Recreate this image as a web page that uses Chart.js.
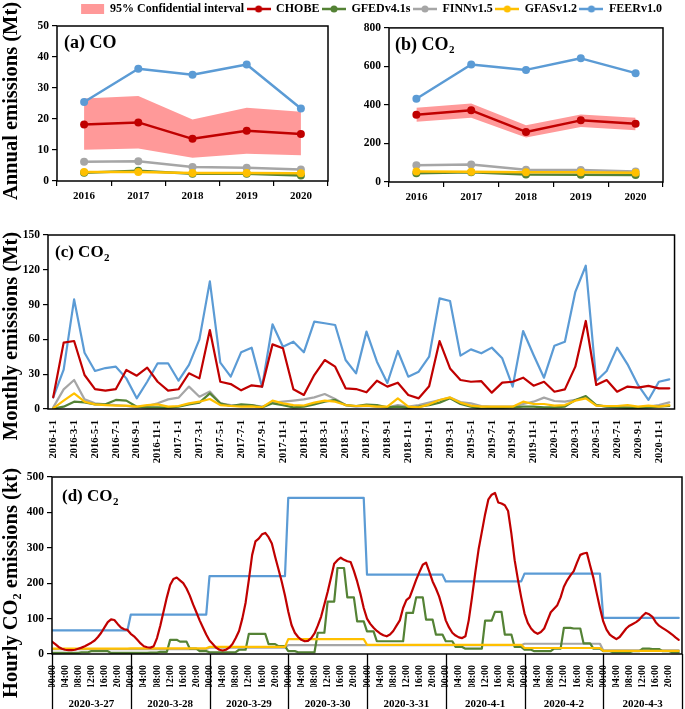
<!DOCTYPE html>
<html><head><meta charset="utf-8">
<script src="https://cdn.jsdelivr.net/npm/chart.js"></script>
<style>
html,body{margin:0;padding:0;background:#fff;}
body{width:685px;height:709px;position:relative;overflow:hidden;}
.c{position:absolute;}
</style></head><body>
<div class="c" style="left:0;top:0;width:340px;height:208px"><canvas id="ca"></canvas></div>
<div class="c" style="left:340px;top:18px;width:345px;height:190px"><canvas id="cb"></canvas></div>
<div class="c" style="left:0;top:222px;width:685px;height:256px"><canvas id="cc"></canvas></div>
<div class="c" style="left:0;top:465px;width:685px;height:244px"><canvas id="cd"></canvas></div>
<div class="c" style="left:29px;top:0;width:685px;height:40px"><canvas id="leg"></canvas></div>
<script>
// ---------- DATA ----------
const years = ['2016','2017','2018','2019','2020'];
// (a) CO annual (Mt)
const coCHOBE = [18.2, 18.9, 13.6, 16.2, 15.2];
const coUpper = [26.6, 27.4, 19.8, 23.6, 22.3];
const coLower = [10.1, 10.5, 7.5, 8.8, 8.3];
const coGFED  = [2.7, 3.3, 2.3, 2.3, 1.8];
const coFINN  = [6.2, 6.4, 4.5, 4.3, 3.7];
const coGFAS  = [2.9, 2.9, 2.6, 2.6, 2.5];
const coFEER  = [25.5, 36.2, 34.3, 37.6, 23.4];
// (b) CO2 annual (Mt)
const co2CHOBE = [349, 372, 260, 320, 303];
const co2Upper = [385, 408, 295, 351, 334];
const co2Lower = [313, 334, 231, 286, 269];
const co2GFED  = [46, 51, 39, 38, 36];
const co2FINN  = [87, 91, 63, 62, 55];
const co2GFAS  = [55, 53, 50, 51, 48];
const co2FEER  = [432, 610, 582, 642, 565];
// (c) monthly CO2 (Mt), 2016-01 .. 2020-12
const monthLabels = [];
for (let y = 2016; y <= 2020; y++) for (let m = 1; m <= 12; m++) monthLabels.push(y + '-' + m + '-1');
const mCHOBE = [10.1,57.2,58.6,29.3,17.2,15.8,17.2,33.6,28.7,35.6, 23.5,15.8,17.0,30.8,26.4,68.1,23.5,21.5,16.1,20.4,
                19.3,55.7,52.3,17.0,12.1,29.3,42.2,36.5,17.8,17.2, 14.4,24.4,19.3,22.7,12.1,9.2,19.6,58.6,35.0,25.0,
                23.5,24.0,14.1,22.7,23.5,27.0,20.1,23.5,14.9,16.9, 36.5,75.9,20.7,25.0,14.9,19.3,18.4,19.9,17.8,17.8];
const mFEER  = [10,34,94.5,48.5,32.8,35.3,36.5,26.4,9.2,23.5, 39.4,39.4,24.4,38,60,110,40,27.9,49,52.9,
                19,73,53.7,58,48.9,75.3,73.9,72.4,42.2,30.7, 66.7,40.8,22.4,50,27.9,32.2,45.1,95.4,93.1,46,
                51.4,48,52.9,43.7,19.3,67.2,46.6,27,54.6,58, 101,123.5,24.1,32.8,52.9,38.5,20.7,7.8,23.5,25.6];
const mGFED  = [0.3,2,6.3,5.7,4,4,7.8,7.2,2,1.4, 1.4,1.1,2,4,5.5,13.5,4.9,2.6,4,3.4,
                1.4,4.9,3.4,1.4,2,4,6.3,7.8,3.4,2.6, 3.7,3.4,1.4,2,0.9,2,3.4,5.5,9.2,4.3,
                2,0.3,0.9,0.9,1.4,2,2,1.4,1.4,2, 7.8,11.2,3.4,2,1.4,0.9,0.9,1.4,2,2.6];
const mFINN  = [1.4,16.9,25,8.3,4.9,4,3.4,2.6,1.4,2.6, 4.9,8.3,9.8,19.3,10.6,15,4.9,3.4,3,3.4,
                2,5.5,6.3,7.2,8.3,10,12.9,8.6,3.4,2, 2.6,2,1.4,3.4,2,3.4,5.5,7.8,9.8,6,
                4.9,2.6,2,2,2,4.3,6.3,9.8,6.9,6.3, 7.8,10.2,3.4,2,2,2,1.4,2,3.4,5.7];
const mGFAS  = [0.6,7.2,13.5,6.3,4,3.4,2.9,2.9,2,3.4, 4,2,2.6,4.9,6.3,8.6,3.4,2.6,2,2.3,
                1.4,7.2,4.9,3.4,3,5.5,7.2,6.3,3.4,2.6, 2.9,2,2,9.2,2,1.4,4,7.8,10,5.5,
                2.9,2,2,2,2,6.3,4.3,4.3,2.9,3.4, 7.2,9.2,2.9,2.6,2.6,3.4,2,2.9,2,3.4];
// (d) hourly CO2 (kt), 2020-3-27 00:00 .. 2020-4-3 23:00
const dayLabels = ['2020-3-27','2020-3-28','2020-3-29','2020-3-30','2020-3-31','2020-4-1','2020-4-2','2020-4-3'];
const hourTicks = ['00:00','04:00','08:00','12:00','16:00','20:00'];
const hCHOBE = [
 35,28,20,15,12,11,11,12,15,18,22,27,32,38,48,60,75,90,98,96,85,75,70,68,
 57,50,40,30,22,19,18,22,45,80,120,160,195,212,216,208,200,185,165,140,118,95,75,55,
 38,28,18,12,10,12,18,28,45,65,100,145,210,280,318,326,338,342,330,312,275,240,205,165,
 120,82,60,48,40,36,37,45,58,80,105,140,175,215,255,265,272,266,262,260,235,205,170,130,
 100,85,74,65,58,53,50,55,65,80,95,130,152,160,185,210,232,252,258,232,205,185,162,130,
 95,75,60,52,47,45,50,95,160,230,295,345,395,437,450,455,428,425,420,404,340,265,210,160,
 115,88,72,62,57,62,72,95,118,128,138,160,190,208,222,234,258,280,284,286,250,215,172,130,
 92,69,55,48,42,48,60,72,80,85,90,97,108,116,112,105,90,80,74,68,62,55,47,40];
// GFED: 3-hourly blocks (8 per day)
const hGFEDblocks = [
 3,3,3,5,8,8,3,3,
 3,3,4,6,40,35,15,8,
 5,5,5,12,57,57,28,22,
 8,5,5,60,148,243,160,92,
 64,36,36,36,116,160,97,55,
 36,20,15,15,94,119,55,20,
 12,8,8,15,74,72,30,15,
 8,5,5,8,15,14,8,5];
// daily-constant products
const hFINNdaily = [14, 14, 18, 25, 25, 25, 29, 10];
const hGFASdaily = [15, 16, 20, 42, 26, 26, 17, 9];
const hFEERdaily = [67, 111, 220, 441, 224, 205, 227, 102];

// ---------- STYLE ----------
const RED='#C00000', GRN='#548235', GRY='#A6A6A6', YEL='#FFC000', BLUE='#5B9BD5', PINK='#FF9999';
const FAM = "'Liberation Serif','Times New Roman',serif";
Chart.defaults.font.family = FAM;
Chart.defaults.font.weight = 'bold';
Chart.defaults.color = '#000';
Chart.defaults.animation = false;
Chart.defaults.plugins.legend.display = false;
Chart.defaults.plugins.tooltip.enabled = false;
Chart.defaults.maintainAspectRatio = false;

const frame = {id:'frame', afterDraw(chart){
  const {ctx, chartArea:a} = chart; ctx.save(); ctx.strokeStyle='#000'; ctx.lineWidth=1.5;
  ctx.strokeRect(a.left, a.top, a.right-a.left, a.bottom-a.top); ctx.restore();
}};
const plabel = {id:'plabel', afterDraw(chart, args, o){
  const {ctx, chartArea:a} = chart; ctx.save(); ctx.fillStyle='#000'; ctx.textBaseline='middle';
  ctx.font = 'bold ' + o.size + 'px ' + FAM;
  const x = a.left + o.dx, y = a.top + o.dy;
  ctx.fillText(o.main, x, y);
  if (o.sub) { const w = ctx.measureText(o.main).width; ctx.font = 'bold ' + Math.round(o.size*0.62) + 'px ' + FAM; ctx.fillText(o.sub, x + w + 0.5, y + o.size*0.28); }
  ctx.restore();
}};
// rotated y-axis title, centred at (x, yc) in canvas pixels
const ytitle = {id:'ytitle', afterDraw(chart, args, o){
  if (!o || !o.text) return;
  const ctx = chart.ctx; ctx.save(); ctx.translate(o.x, o.yc); ctx.rotate(-Math.PI/2);
  ctx.fillStyle='#000'; ctx.textAlign='center'; ctx.textBaseline='middle';
  ctx.font = 'bold ' + o.size + 'px ' + FAM; ctx.fillText(o.text, 0, 0); ctx.restore();
}};
const daySep = {id:'daySep', afterDraw(chart){
  const s = chart.scales.x, a = chart.chartArea, ctx = chart.ctx; ctx.save(); ctx.strokeStyle='#000'; ctx.lineWidth=1.3;
  for (let d = 0; d <= dayLabels.length; d++) { const x = Math.round(s.getPixelForValue(24*d)) + 0.5; ctx.beginPath(); ctx.moveTo(x, a.bottom); ctx.lineTo(x, chart.height); ctx.stroke(); }
  ctx.restore();
}};

function yAxis(min, max, step, width){
  return {min, max, ticks:{stepSize:step, font:{size:11.5}, padding:3},
    grid:{drawOnChartArea:false, drawTicks:true, tickLength:5, color:'#000', lineWidth:1.2},
    border:{display:false}, title:{display:false},
    afterFit(s){ s.width = width; }};
}
function catX(height){
  return {offset:true, ticks:{font:{size:11}, padding:4, maxRotation:0, autoSkip:false},
    grid:{offset:true, drawOnChartArea:false, drawTicks:true, tickLength:5, color:'#000', lineWidth:1.2},
    border:{display:false}, afterFit(s){ s.height = height; }};
}
function L(label, data, color, w, r){
  return {label, data, borderColor:color, backgroundColor:color, pointBackgroundColor:color, pointBorderWidth:0,
    pointRadius:r, borderWidth:w, fill:false, tension:0, borderJoinStyle:'round', borderCapStyle:'round'};
}
function annual(chobe, up, lo, gfed, finn, gfas, feer){
  return [L('CHOBE',chobe,RED,2.5,4), L('FEERv1.0',feer,BLUE,2.5,4), L('GFASv1.2',gfas,YEL,2.5,4),
    L('GFEDv4.1s',gfed,GRN,2.5,4), L('FINNv1.5',finn,GRY,2.5,4),
    {label:'CIup', data:up, borderWidth:0, borderColor:'transparent', pointRadius:0, backgroundColor:PINK, fill:'+1'},
    {label:'CIlo', data:lo, borderWidth:0, borderColor:'transparent', pointRadius:0, fill:false}];
}

// ---------- (a) ----------
new Chart(document.getElementById('ca'), {
  type:'line', data:{labels:years, datasets:annual(coCHOBE, coUpper, coLower, coGFED, coFINN, coGFAS, coFEER)},
  options:{layout:{padding:{top:26, right:12, left:0, bottom:0}},
    scales:{x:catX(27), y:yAxis(0,50,10,57)},
    plugins:{plabel:{main:'(a) CO', sub:'', size:18, dx:7, dy:17},
             ytitle:{text:'Annual emissions (Mt)', x:12, yc:101, size:20.5}}},
  plugins:[frame, plabel, ytitle]
});
// ---------- (b) ----------
new Chart(document.getElementById('cb'), {
  type:'line', data:{labels:years, datasets:annual(co2CHOBE, co2Upper, co2Lower, co2GFED, co2FINN, co2GFAS, co2FEER)},
  options:{layout:{padding:{top:8, right:22, left:0, bottom:0}},
    scales:{x:catX(26), y:yAxis(0,800,200,49)},
    plugins:{plabel:{main:'(b) CO', sub:'2', size:18, dx:6, dy:17}}},
  plugins:[frame, plabel]
});
// ---------- (c) ----------
new Chart(document.getElementById('cc'), {
  type:'line', data:{labels:monthLabels, datasets:[
    L('CHOBE',mCHOBE,RED,2.2,0), L('FEERv1.0',mFEER,BLUE,2.2,0), L('GFASv1.2',mGFAS,YEL,2.2,0),
    L('GFEDv4.1s',mGFED,GRN,2.2,0), L('FINNv1.5',mFINN,GRY,2.2,0)]},
  options:{layout:{padding:{top:13, right:10, left:0, bottom:0}},
    scales:{
      x:{offset:true, ticks:{font:{size:10.5}, padding:3, minRotation:90, maxRotation:90, autoSkip:false,
          callback(v, i){ return i % 2 === 0 ? this.getLabelForValue(v) : ''; }},
         grid:{display:false}, border:{display:false}, afterFit(s){ s.height = 69; }},
      y:yAxis(0,150,30,48)},
    plugins:{plabel:{main:'(c) CO', sub:'2', size:17, dx:7, dy:18},
             ytitle:{text:'Monthly emissions (Mt)', x:12, yc:114, size:20.5}}},
  plugins:[frame, plabel, ytitle]
});
// ---------- (d) ----------
const hourlyPts = hCHOBE.map((v, i) => ({x:i, y:v}));
const gfedPts = []; hGFEDblocks.forEach((v, k) => { gfedPts.push({x:3*k, y:v}); gfedPts.push({x:3*k+2, y:v}); });
const dailyPts = arr => { const p = []; arr.forEach((v, d) => { p.push({x:24*d, y:v}); p.push({x:24*d+23, y:v}); }); return p; };
new Chart(document.getElementById('cd'), {
  type:'line', data:{datasets:[
    L('CHOBE',hourlyPts,RED,2.2,0), L('FEERv1.0',dailyPts(hFEERdaily),BLUE,2.2,0),
    L('GFASv1.2',dailyPts(hGFASdaily),YEL,2.2,0), L('GFEDv4.1s',gfedPts,GRN,2.2,0),
    L('FINNv1.5',dailyPts(hFINNdaily),GRY,2.2,0)]},
  options:{layout:{padding:{top:12, right:3, left:0, bottom:0}},
    scales:{
      x:{type:'linear', min:0, max:192, weight:0,
         ticks:{font:{size:10}, padding:3, minRotation:90, maxRotation:90, autoSkip:false, includeBounds:false,
           callback(v){ return hourTicks[(v % 24) / 4]; }},
         afterBuildTicks(s){ const t = []; for (let v = 0; v < 192; v += 4) t.push({value:v}); s.ticks = t; },
         grid:{display:false}, border:{display:false}, afterFit(s){ s.height = 33; }},
      xd:{type:'category', labels:dayLabels, position:'bottom', offset:true, weight:1,
         ticks:{font:{size:11}, padding:3, maxRotation:0, autoSkip:false},
         grid:{display:false}, border:{display:false}, afterFit(s){ s.height = 22; }},
      y:yAxis(0,500,100,52)},
    plugins:{plabel:{main:'(d) CO', sub:'2', size:17, dx:10, dy:20},
             ytitle:{text:'Hourly CO\u2082 emissions (kt)', x:12, yc:118, size:20.5}}},
  plugins:[frame, plabel, ytitle, daySep]
});

// ---------- LEGEND ----------
function lineDot(color){
  const c = document.createElement('canvas'); c.width = 24; c.height = 10;
  const g = c.getContext('2d'); g.strokeStyle = color; g.lineWidth = 2.5;
  g.beginPath(); g.moveTo(0,5); g.lineTo(24,5); g.stroke();
  g.fillStyle = color; g.beginPath(); g.arc(12,5,3.5,0,Math.PI*2); g.fill(); return c;
}
const legendItems = [
  {text:'95% Confidential interval', color:PINK, rect:true},
  {text:'CHOBE', color:RED}, {text:'GFEDv4.1s', color:GRN}, {text:'FINNv1.5', color:GRY},
  {text:'GFASv1.2', color:YEL}, {text:'FEERv1.0', color:BLUE}];
new Chart(document.getElementById('leg'), {
  type:'line', data:{labels:[], datasets:[]},
  options:{layout:{padding:0}, scales:{x:{display:false}, y:{display:false}},
    plugins:{legend:{display:true, position:'top', align:'center',
      labels:{usePointStyle:true, pointStyleWidth:23, boxHeight:10, padding:3, font:{size:12, weight:'bold'}, color:'#000',
        generateLabels: () => legendItems.map((it, i) => ({text:it.text, fillStyle:it.color, strokeStyle:it.color,
          lineWidth:0, pointStyle: it.rect ? 'rect' : lineDot(it.color), hidden:false, datasetIndex:i, fontColor:'#000'}))}}}}
});
</script>
</body></html>
